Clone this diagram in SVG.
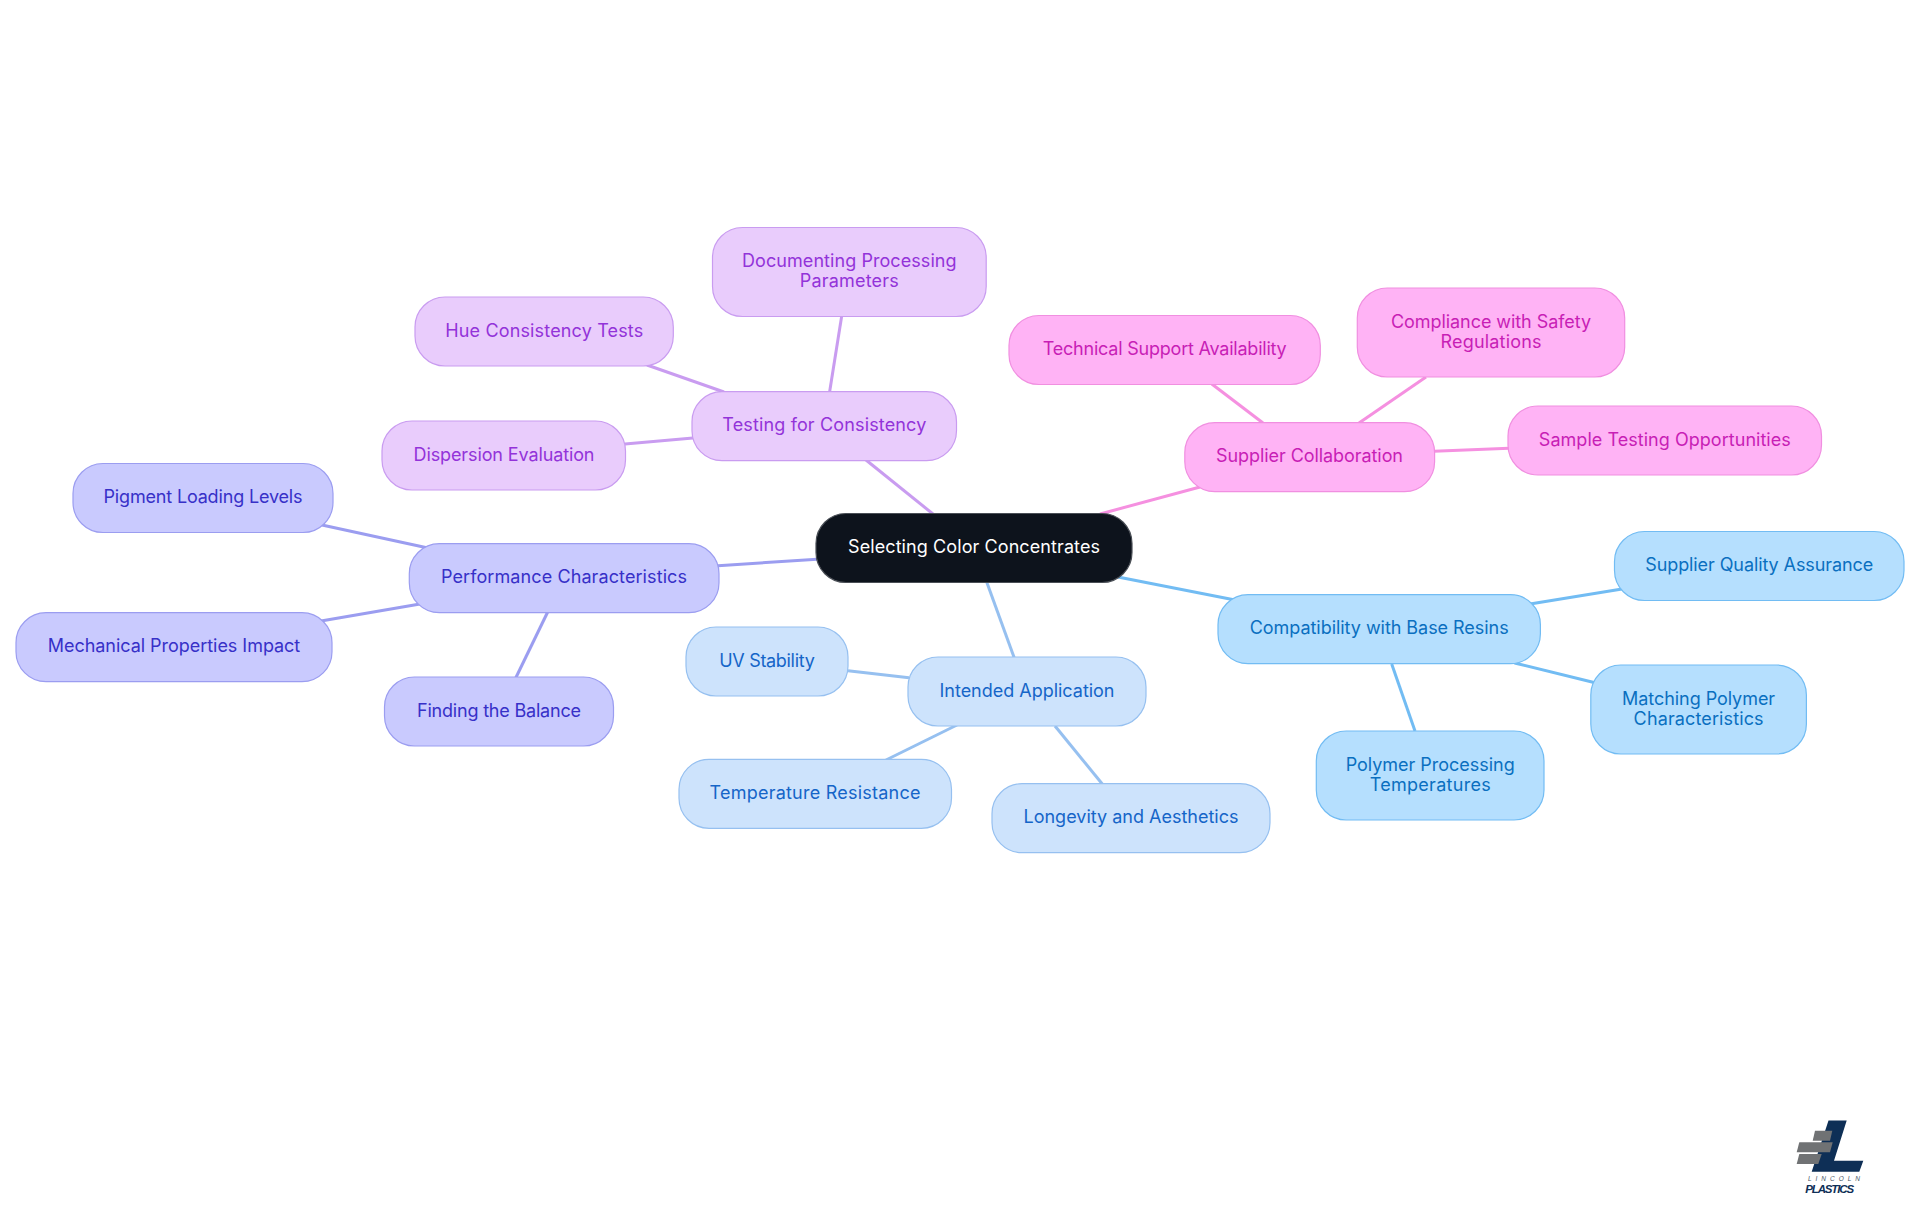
<svg xmlns="http://www.w3.org/2000/svg" width="1920" height="1215" viewBox="0 0 1920 1215">
<style>
text{font-family:"Inter","Noto Sans","Liberation Sans",sans-serif;font-size:18px;text-anchor:middle}
rect{stroke-width:1.2}
line{stroke-width:3;fill:none}
.root rect{fill:#0d131c;stroke:#4a4f56}.root text{fill:#fff}
.ia rect{fill:#cde3fc;stroke:#96c0f0}.ia text{fill:#1565c8}
.pc rect{fill:#c9cafe;stroke:#9b9df0}.pc text{fill:#3730c8}
.tc rect{fill:#e9ccfc;stroke:#c99cf0}.tc text{fill:#9333d9}
.sc rect{fill:#ffb3f5;stroke:#f08fe0}.sc text{fill:#c81eb5}
.cb rect{fill:#b5dffe;stroke:#72bcf3}.cb text{fill:#0a6fc0}
.l-ia{stroke:#96c0f0}.l-pc{stroke:#9b9df0}.l-tc{stroke:#c99cf0}.l-sc{stroke:#f590e0}.l-cb{stroke:#72bcf3}
</style>
<g id="connectors">
<line class="l-tc" x1="866" y1="460" x2="933" y2="514"/>
<line class="l-tc" x1="647" y1="365" x2="724" y2="392"/>
<line class="l-tc" x1="625" y1="444" x2="693" y2="438"/>
<line class="l-tc" x1="841.700" y1="316" x2="829.600" y2="392"/>
<line class="l-pc" x1="718" y1="565.700" x2="817" y2="559.300"/>
<line class="l-pc" x1="322" y1="525" x2="428" y2="548"/>
<line class="l-pc" x1="321" y1="621" x2="420" y2="604"/>
<line class="l-pc" x1="547.700" y1="612" x2="515.700" y2="678"/>
<line class="l-ia" x1="986.700" y1="582" x2="1014.300" y2="658"/>
<line class="l-ia" x1="848" y1="670.700" x2="909" y2="677.700"/>
<line class="l-ia" x1="886" y1="760" x2="957" y2="725"/>
<line class="l-ia" x1="1055" y1="726" x2="1102.300" y2="784"/>
<line class="l-sc" x1="1100" y1="514" x2="1200" y2="487"/>
<line class="l-sc" x1="1211.800" y1="384" x2="1263" y2="423"/>
<line class="l-sc" x1="1426" y1="377" x2="1359" y2="423"/>
<line class="l-sc" x1="1434" y1="451.300" x2="1509" y2="448.300"/>
<line class="l-cb" x1="1118" y1="577" x2="1235" y2="600"/>
<line class="l-cb" x1="1530" y1="604" x2="1622" y2="589"/>
<line class="l-cb" x1="1514.500" y1="663" x2="1594" y2="682.500"/>
<line class="l-cb" x1="1391.700" y1="664" x2="1415" y2="731"/>
</g>
<g id="root" class="root"><rect x="816" y="513.500" width="316" height="69" rx="30"/><text x="974" y="553" textLength="252">Selecting Color Concentrates</text></g>
<g id="intended" class="ia"><rect x="908" y="657" width="238" height="69" rx="30"/><text x="1027" y="697" textLength="175">Intended Application</text></g>
<g id="uv" class="ia"><rect x="686" y="627" width="162" height="69" rx="30"/><text x="767" y="667" textLength="95.500">UV Stability</text></g>
<g id="temp" class="ia"><rect x="679" y="759.300" width="272.500" height="69" rx="30"/><text x="815" y="799" textLength="211">Temperature Resistance</text></g>
<g id="longevity" class="ia"><rect x="992" y="783.700" width="278" height="69" rx="30"/><text x="1131" y="823" textLength="215">Longevity and Aesthetics</text></g>
<g id="performance" class="pc"><rect x="409.300" y="543.700" width="309.700" height="69" rx="30"/><text x="564" y="583.300" textLength="246">Performance Characteristics</text></g>
<g id="pigment" class="pc"><rect x="73" y="463.500" width="260" height="69" rx="30"/><text x="203" y="503" textLength="199">Pigment Loading Levels</text></g>
<g id="mechanical" class="pc"><rect x="16" y="612.700" width="316" height="69" rx="30"/><text x="174" y="652" textLength="252.500">Mechanical Properties Impact</text></g>
<g id="finding" class="pc"><rect x="384.500" y="677" width="229" height="69" rx="30"/><text x="499" y="717" textLength="164">Finding the Balance</text></g>
<g id="testing" class="tc"><rect x="692" y="391.700" width="264.500" height="69" rx="30"/><text x="824.300" y="431.300" textLength="204">Testing for Consistency</text></g>
<g id="hue" class="tc"><rect x="415" y="297" width="258.300" height="69" rx="30"/><text x="544.200" y="337" textLength="198">Hue Consistency Tests</text></g>
<g id="dispersion" class="tc"><rect x="382" y="421" width="243.500" height="69" rx="30"/><text x="504" y="461" textLength="181">Dispersion Evaluation</text></g>
<g id="documenting" class="tc"><rect x="712.500" y="227.500" width="273.700" height="89" rx="30"/><text x="849.300" y="267.300" textLength="214.500">Documenting Processing</text><text x="849.300" y="287.300" textLength="99">Parameters</text></g>
<g id="supplier" class="sc"><rect x="1184.800" y="422.700" width="249.800" height="69" rx="30"/><text x="1309.500" y="462.300" textLength="187">Supplier Collaboration</text></g>
<g id="technical" class="sc"><rect x="1009" y="315.500" width="311.300" height="69" rx="30"/><text x="1164.700" y="355" textLength="244">Technical Support Availability</text></g>
<g id="compliance" class="sc"><rect x="1357.300" y="288" width="267.400" height="89" rx="30"/><text x="1491" y="328" textLength="200">Compliance with Safety</text><text x="1491" y="348" textLength="101">Regulations</text></g>
<g id="sample" class="sc"><rect x="1508" y="406" width="313.500" height="69" rx="30"/><text x="1664.800" y="446" textLength="252">Sample Testing Opportunities</text></g>
<g id="compat" class="cb"><rect x="1218" y="594.700" width="322.400" height="69" rx="30"/><text x="1379.200" y="634.300" textLength="259">Compatibility with Base Resins</text></g>
<g id="assurance" class="cb"><rect x="1614.500" y="531.500" width="289.500" height="69" rx="30"/><text x="1759.200" y="571" textLength="228">Supplier Quality Assurance</text></g>
<g id="matching" class="cb"><rect x="1590.800" y="665" width="215.600" height="89" rx="30"/><text x="1698.600" y="705" textLength="153">Matching Polymer</text><text x="1698.600" y="725" textLength="130">Characteristics</text></g>
<g id="polymer" class="cb"><rect x="1316.300" y="731" width="227.700" height="89" rx="30"/><text x="1430.200" y="771" textLength="169">Polymer Processing</text><text x="1430.200" y="791" textLength="121">Temperatures</text></g>
<g id="logo">
<polygon points="1828.500,1120.500 1846.700,1120.500 1834,1160.700 1863.300,1160.700 1859.300,1171.700 1811.700,1171.700" fill="#0e2f56"/>
<polygon points="1815,1130.700 1832.300,1130.700 1830,1140.700 1812.700,1140.700" fill="#707274"/>
<polygon points="1799.300,1142.300 1832.700,1142.300 1830,1152.300 1796.700,1152.300" fill="#707274"/>
<polygon points="1799.300,1154 1821.700,1154 1818.300,1164 1796.700,1164" fill="#707274"/>
<text x="1834" y="1181" textLength="52" style="font-family:'Liberation Sans',sans-serif;font-size:6.500px;font-style:italic;fill:#4a5766">LINCOLN</text>
<text x="1829.700" y="1192.700" textLength="49" style="font-family:'Liberation Sans',sans-serif;font-size:11.500px;font-style:italic;font-weight:700;fill:#0e2f56">PLASTICS</text>
</g>
</svg>
